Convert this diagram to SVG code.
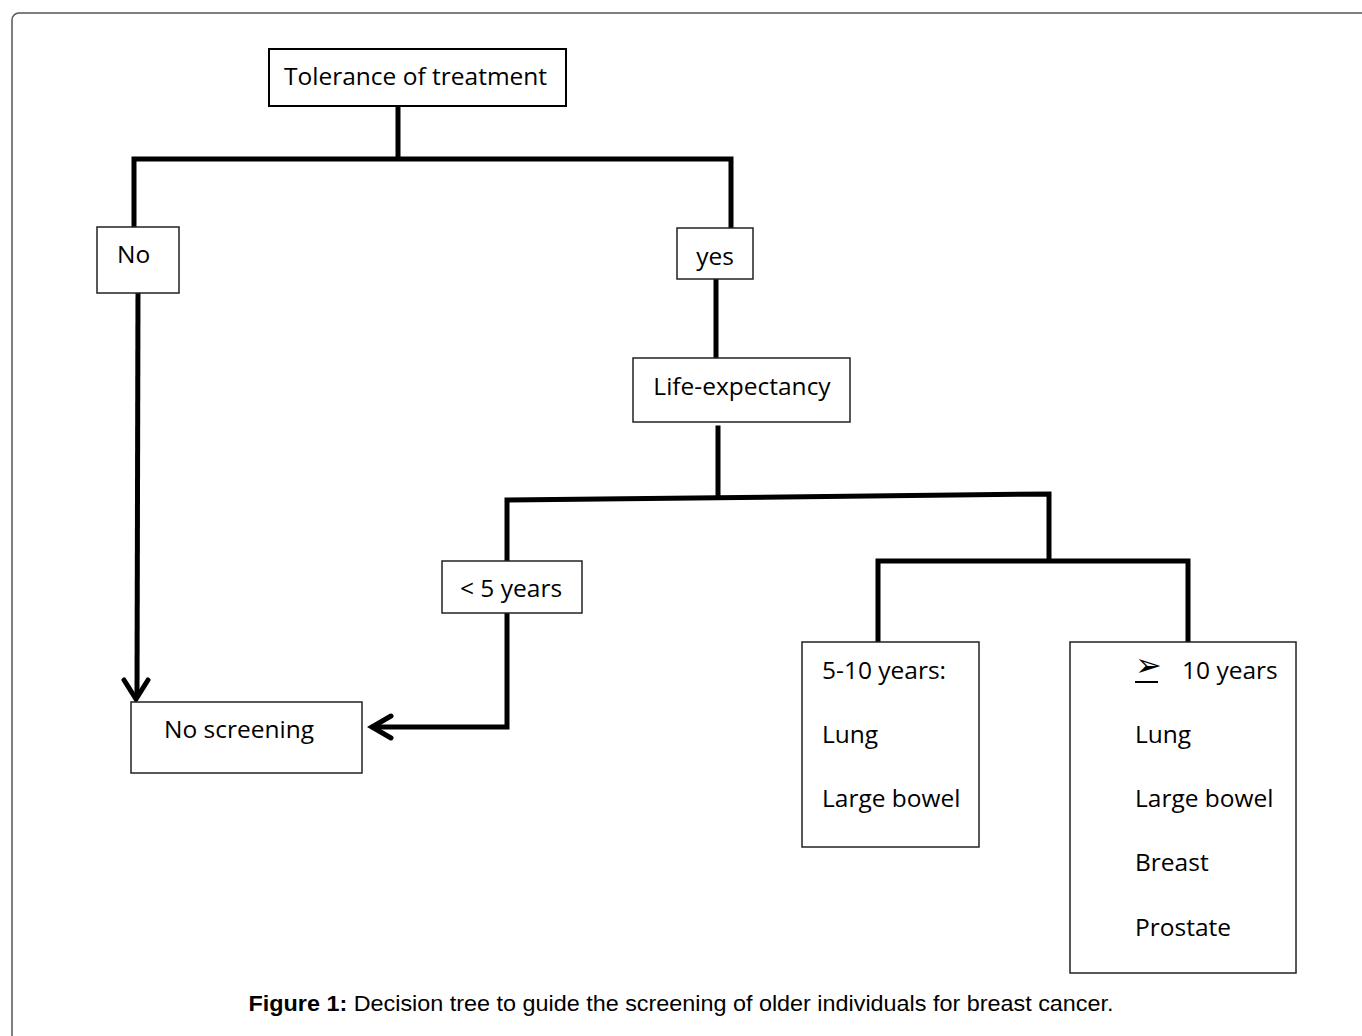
<svg xmlns="http://www.w3.org/2000/svg" width="1362" height="1036" viewBox="0 0 1362 1036">
<style>
.box{fill:#fff;stroke:#000;stroke-width:2}
.bthin{fill:#fff;stroke:#222;stroke-width:1.5}
.t{font-family:"Open Sans","DejaVu Sans",sans-serif;font-size:24.5px;fill:#000}
.c{stroke:#000;stroke-width:5;fill:none;stroke-linecap:square}
.cap{font-family:"Liberation Sans",Arial,sans-serif;font-size:22px;fill:#000}
</style>
<rect x="0" y="0" width="1362" height="1036" fill="#fff"/>
<rect x="12" y="13" width="1420" height="1100" rx="7" fill="none" stroke="#555" stroke-width="1.5"/>
<g id="connectors">
<polyline class="c" points="398,106 398,158"/>
<polyline class="c" points="134,228 134,159 731,159 731,226"/>
<polyline class="c" points="138,286 137,697" style="stroke-linecap:butt"/>
<polyline class="c" points="124,680 136,699 148,680" style="stroke-linejoin:miter;stroke-linecap:round"/>
<polyline class="c" points="716,280 716,357"/>
<polyline class="c" points="718,428 718,496"/>
<polyline class="c" points="507,561 507,500 1049,494 1049,559"/>
<polyline class="c" points="878,641 878,561 1188,561 1188,641"/>
<polyline class="c" points="507,614 507,727 374,727" style="stroke-linejoin:miter"/>
<polyline class="c" points="391,716 372,727 391,738" style="stroke-linejoin:miter;stroke-linecap:round"/>
</g>
<g id="n-tolerance">
<rect class="box" x="269" y="49" width="297" height="57"/>
<text class="t" x="284" y="85">Tolerance of treatment</text>
</g>
<g id="n-no">
<rect class="bthin" x="97" y="227" width="82" height="66"/>
<text class="t" x="117" y="263">No</text>
</g>
<g id="n-yes">
<rect class="bthin" x="677" y="228" width="76" height="51"/>
<text class="t" x="715" y="265" text-anchor="middle">yes</text>
</g>
<g id="n-life">
<rect class="bthin" x="633" y="358" width="217" height="64"/>
<text class="t" x="742" y="395" text-anchor="middle">Life-expectancy</text>
</g>
<g id="n-lt5">
<rect class="bthin" x="442" y="561" width="140" height="52"/>
<text class="t" x="460" y="597">&lt; 5 years</text>
</g>
<g id="n-noscreening">
<rect class="bthin" x="131" y="702" width="231" height="71"/>
<text class="t" x="164" y="738">No screening</text>
</g>
<g id="n-5to10">
<rect class="bthin" x="802" y="642" width="177" height="205"/>
<text class="t" x="822" y="679">5-10 years:</text>
<text class="t" x="822" y="743">Lung</text>
<text class="t" x="822" y="807">Large bowel</text>
</g>
<g id="n-ge10">
<rect class="bthin" x="1070" y="642" width="226" height="331"/>
<text x="1135" y="676" font-family="'DejaVu Sans',sans-serif" font-size="32px">➢</text>
<line x1="1135" y1="682" x2="1158" y2="682" stroke="#000" stroke-width="2"/>
<text class="t" x="1182" y="679">10 years</text>
<text class="t" x="1135" y="743">Lung</text>
<text class="t" x="1135" y="807">Large bowel</text>
<text class="t" x="1135" y="871">Breast</text>
<text class="t" x="1135" y="936">Prostate</text>
</g>
<text class="cap" x="681" y="1011" text-anchor="middle" textLength="865" lengthAdjust="spacingAndGlyphs"><tspan font-weight="bold">Figure 1:</tspan> Decision tree to guide the screening of older individuals for breast cancer.</text>
</svg>
